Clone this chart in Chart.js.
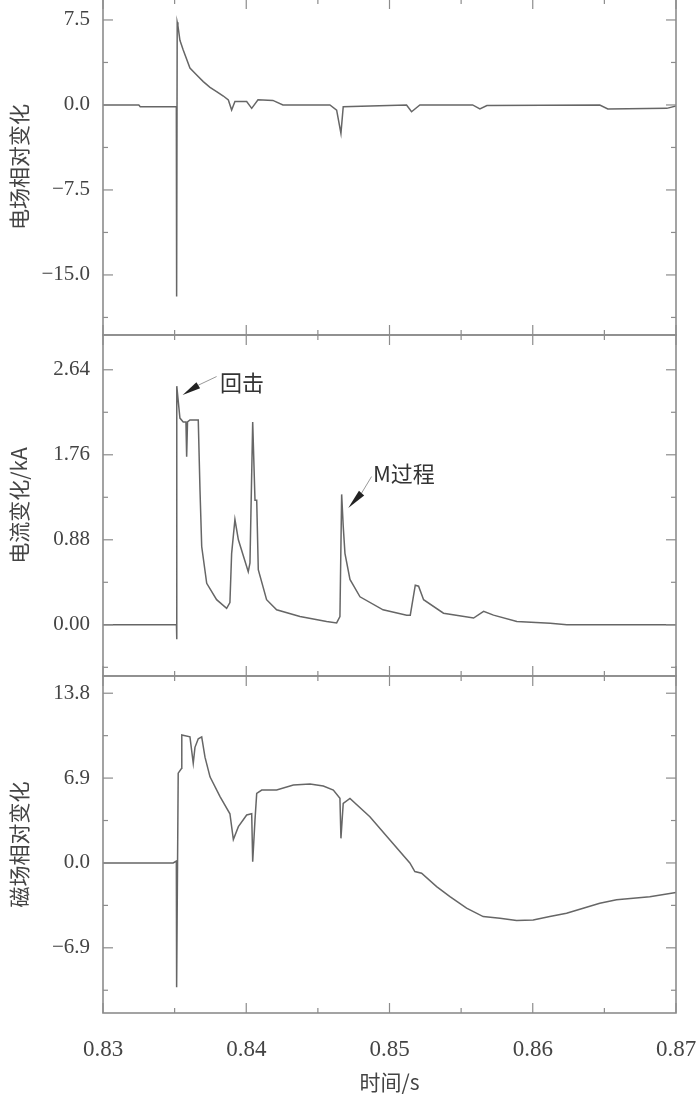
<!DOCTYPE html>
<html>
<head>
<meta charset="utf-8">
<script src="https://cdn.jsdelivr.net/npm/chart.js@4"></script>
<style>
  html, body { margin: 0; padding: 0; background: #ffffff; }
  #wrap { position: relative; width: 700px; height: 1097px; overflow: hidden; }
  canvas { position: absolute; left: 0; }
</style>
</head>
<body>
<div id="wrap">
  <canvas id="eChart" width="700" height="340" style="top:-3px"></canvas>
  <canvas id="iChart" width="700" height="345" style="top:333px"></canvas>
  <canvas id="bChart" width="700" height="423" style="top:674px"></canvas>
</div>
<script>
// time axis (s)
const xTicks = [0.83, 0.84, 0.85, 0.86, 0.87];

// electric field change
const eTicks = [-15, -7.5, 0, 7.5];
const eTime = [0.8300, 0.8325, 0.8326, 0.83512, 0.83514, 0.83518, 0.83523, 0.83537, 0.83560, 0.83607,
  0.83654, 0.83700, 0.83747, 0.83793, 0.83840, 0.83875, 0.83898, 0.83921, 0.84003, 0.84038,
  0.84082, 0.84186, 0.84256, 0.84584, 0.84631, 0.84661, 0.84677, 0.85119, 0.85154, 0.85212,
  0.85580, 0.85631, 0.85680, 0.86468, 0.86524, 0.86936, 0.8700];
const eValue = [0.0, 0.0, -0.15, -0.15, -16.9, 7.3, 7.0, 5.7, 4.85, 3.25,
  2.65, 2.06, 1.56, 1.18, 0.79, 0.44, -0.44, 0.3, 0.3, -0.3,
  0.45, 0.4, 0.0, 0.0, -0.45, -2.5, -0.15, 0.0, -0.6, 0.0,
  0.0, -0.35, -0.05, 0.0, -0.35, -0.3, -0.1];

// current (kA)
const iTicks = [0, 0.88, 1.76, 2.64];
const iTime = [0.8300, 0.83513, 0.83514, 0.83516, 0.83537, 0.83560, 0.83579, 0.83584, 0.83590, 0.83607,
  0.83665, 0.83677, 0.83689, 0.83724, 0.83793, 0.83863, 0.83886, 0.83898, 0.83921, 0.83945,
  0.84014, 0.84026, 0.84045, 0.84061, 0.84073, 0.84084, 0.84142, 0.84212, 0.84375, 0.84561,
  0.84631, 0.84654, 0.84666, 0.84677, 0.84689, 0.84724, 0.84794, 0.84955, 0.85120, 0.85145,
  0.85180, 0.85203, 0.85238, 0.85377, 0.85587, 0.85657, 0.85726, 0.85889, 0.86122, 0.86238,
  0.8700];
const iValue = [0.0, 0.0, -0.15, 2.47, 2.14, 2.10, 2.10, 1.74, 2.10, 2.12,
  2.12, 1.40, 0.81, 0.43, 0.26, 0.17, 0.23, 0.74, 1.09, 0.88,
  0.55, 0.64, 2.10, 1.29, 1.29, 0.57, 0.26, 0.155, 0.086, 0.034,
  0.02, 0.086, 1.35, 1.02, 0.74, 0.47, 0.29, 0.155, 0.10, 0.10,
  0.41, 0.40, 0.26, 0.12, 0.07, 0.14, 0.10, 0.034, 0.015, 0.0,
  0.0];

// magnetic field change
const bTicks = [-6.9, 0, 6.9, 13.8];
const bTime = [0.8300, 0.83490, 0.83512, 0.83514, 0.83525, 0.83549, 0.83550, 0.83607, 0.83630, 0.83642,
  0.83665, 0.83689, 0.83712, 0.83747, 0.83817, 0.83886, 0.83910, 0.83945, 0.84003, 0.84038,
  0.84045, 0.84061, 0.84073, 0.84108, 0.84212, 0.84329, 0.84445, 0.84538, 0.84608, 0.84654,
  0.84661, 0.84677, 0.84724, 0.84863, 0.85003, 0.85142, 0.85177, 0.85224, 0.85329, 0.85422,
  0.85538, 0.85654, 0.85771, 0.85887, 0.86003, 0.86119, 0.86236, 0.86352, 0.86468, 0.86585,
  0.86701, 0.86817, 0.8700];
const bValue = [0.0, 0.0, 0.15, -10.1, 7.3, 7.7, 10.4, 10.25, 8.1, 9.4,
  10.1, 10.25, 8.6, 7.0, 5.4, 4.0, 1.9, 2.95, 3.9, 4.0,
  0.1, 3.5, 5.66, 5.93, 5.93, 6.33, 6.41, 6.25, 5.93, 5.25,
  2.0, 4.85, 5.25, 3.76, 1.87, 0.0, -0.7, -0.84, -1.92, -2.74,
  -3.68, -4.36, -4.49, -4.68, -4.63, -4.36, -4.09, -3.68, -3.27, -3.0,
  -2.87, -2.74, -2.41];

// annotations on the current panel (time, kA)
const noteText = ['回击', 'M过程'];
const noteTextAt = [[0.83816, 2.51], [0.84884, 1.56]];
const noteTail = [[0.83793, 2.57], [0.84875, 1.535]];
const noteBase = [[0.83665, 2.48], [0.84805, 1.363]];
const noteTip = [[0.83556, 2.38], [0.84712, 1.208]];

const lineColor = '#666';
const textColor = '#444';

// frame with inward ticks on all four sides
const frameTicks = {
  id: 'frameTicks',
  afterDatasetsDraw(chart, args, opts) {
    const { ctx, chartArea: a, scales: { x, y } } = chart;
    ctx.save();
    ctx.strokeStyle = '#8c8c8c';
    ctx.lineWidth = 1.6;
    ctx.strokeRect(a.left, a.top, a.right - a.left, a.bottom - a.top);
    ctx.lineWidth = 1.2;
    const seg = (x1, y1, x2, y2) => {
      ctx.beginPath(); ctx.moveTo(x1, y1); ctx.lineTo(x2, y2); ctx.stroke();
    };
    const xStep = xTicks[1] - xTicks[0];
    for (let k = 0; k < xTicks.length; k++) {
      const px = x.getPixelForValue(xTicks[k]);
      seg(px, a.top, px, a.top + 10);
      seg(px, a.bottom, px, a.bottom - 10);
      if (k < xTicks.length - 1) {
        const mx = x.getPixelForValue(xTicks[k] + xStep / 2);
        seg(mx, a.top, mx, a.top + 5);
        seg(mx, a.bottom, mx, a.bottom - 5);
      }
    }
    const yt = opts.yTicks;
    const yStep = yt[1] - yt[0];
    yt.forEach(v => {
      const py = y.getPixelForValue(v);
      seg(a.left, py, a.left + 10, py);
      seg(a.right, py, a.right - 10, py);
    });
    for (let k = -4; k < yt.length + 4; k++) {
      const v = yt[0] + (k + 0.5) * yStep;
      if (v <= y.min || v >= y.max) continue;
      const py = y.getPixelForValue(v);
      seg(a.left, py, a.left + 5, py);
      seg(a.right, py, a.right - 5, py);
    }
    ctx.restore();
  }
};

// labelled arrows on the current panel
const notesPlugin = {
  id: 'notes',
  afterDatasetsDraw(chart) {
    const { ctx, scales: { x, y } } = chart;
    const P = p => [x.getPixelForValue(p[0]), y.getPixelForValue(p[1])];
    ctx.save();
    noteText.forEach((txt, i) => {
      const [tx, ty] = P(noteTextAt[i]);
      const [lx, ly] = P(noteTail[i]);
      const [bx, by] = P(noteBase[i]);
      const [px, py] = P(noteTip[i]);
      ctx.strokeStyle = '#999';
      ctx.lineWidth = 1;
      ctx.beginPath(); ctx.moveTo(lx, ly); ctx.lineTo(bx, by); ctx.stroke();
      const dx = px - bx, dy = py - by, len = Math.hypot(dx, dy);
      const nx = -dy / len * 3.5, ny = dx / len * 3.5;
      ctx.fillStyle = '#222';
      ctx.beginPath();
      ctx.moveTo(bx + nx, by + ny);
      ctx.lineTo(px, py);
      ctx.lineTo(bx - nx, by - ny);
      ctx.closePath();
      ctx.fill();
      ctx.fillStyle = '#333';
      ctx.font = '22px "Noto Sans CJK SC", "Liberation Serif", serif';
      ctx.textAlign = 'left';
      ctx.textBaseline = 'middle';
      ctx.fillText(txt, tx, ty);
    });
    ctx.restore();
  }
};

function makePanel(id, times, values, yTicks, yMin, yMax, digits, yTitle, showX, extra) {
  const points = times.map((t, i) => ({ x: t, y: values[i] }));
  return new Chart(document.getElementById(id), {
    type: 'line',
    data: {
      datasets: [{
        data: points,
        borderColor: lineColor,
        borderWidth: 1.5,
        pointRadius: 0,
        tension: 0
      }]
    },
    options: {
      responsive: false,
      animation: false,
      events: [],
      layout: { padding: { left: 0, right: 24, top: 2, bottom: showX ? 0 : 2 } },
      plugins: {
        legend: { display: false },
        tooltip: { enabled: false },
        frameTicks: { yTicks: yTicks }
      },
      scales: {
        x: {
          type: 'linear',
          min: 0.83,
          max: 0.87,
          display: showX,
          grid: { display: false, drawTicks: false },
          border: { display: false },
          afterBuildTicks: s => { s.ticks = xTicks.map(v => ({ value: v })); },
          afterFit: s => {
            if (!showX) return;
            s.height = 84; s.paddingLeft = 0; s.paddingRight = 0;
          },
          ticks: {
            autoSkip: false,
            maxRotation: 0,
            padding: 23,
            color: textColor,
            font: { family: 'Liberation Serif', size: 23 },
            callback: v => v.toFixed(2)
          },
          title: {
            display: showX,
            text: '时间/s',
            color: textColor,
            font: { family: 'Noto Sans CJK SC', size: 21 },
            padding: { top: 0, bottom: 2 }
          }
        },
        y: {
          min: yMin,
          max: yMax,
          grid: { display: false, drawTicks: false },
          border: { display: false },
          afterBuildTicks: s => { s.ticks = yTicks.map(v => ({ value: v })); },
          afterFit: s => { s.width = 103; s.paddingTop = 0; s.paddingBottom = 0; },
          ticks: {
            padding: 13,
            color: textColor,
            font: { family: 'Liberation Serif', size: 21 },
            callback: v => v.toFixed(digits).replace('-', '\u2212')
          },
          title: {
            display: true,
            text: yTitle,
            color: textColor,
            font: { family: 'Noto Sans CJK SC', size: 21 },
            padding: { top: 6, bottom: 0 }
          }
        }
      }
    },
    plugins: extra ? [frameTicks, extra] : [frameTicks]
  });
}

makePanel('eChart', eTime, eValue, eTicks, -20.3, 9.35, 1, '电场相对变化', false);
makePanel('iChart', iTime, iValue, iTicks, -0.53, 3.0, 2, '电流变化/kA', false, notesPlugin);
makePanel('bChart', bTime, bValue, bTicks, -12.2, 15.2, 1, '磁场相对变化', true);
</script>
</body>
</html>
